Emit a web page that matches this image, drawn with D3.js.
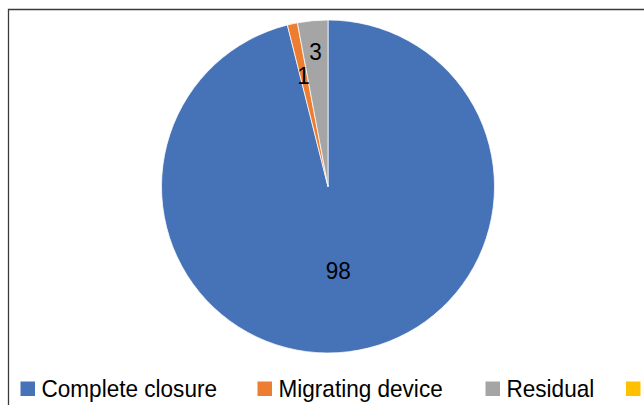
<!DOCTYPE html>
<html>
<head>
<meta charset="utf-8">
<script src="https://cdn.jsdelivr.net/npm/d3@7"></script>
<style>
  html, body { margin: 0; padding: 0; background: #fff; }
  svg { display: block; font-family: "Liberation Sans", Arial, sans-serif; }
</style>
</head>
<body>
<div id="chart"></div>
<script>
// data
const categories = ["Complete closure", "Migrating device", "Residual", "Others"];
const values = [98, 1, 3, 0];
const colors = ["#4672B8", "#ED7D31", "#A5A5A5", "#FFC000"];

// layout only
const labelRadius = [0.505, 0.685, 0.815];
const legendX = [20.5, 257.5, 485.5, 626];

const W = 644, H = 405;
const cx = 328, cy = 186.5, r = 166.5;
const squeeze = 0.94; // text in the picture is slightly narrow

const svg = d3.select("#chart")
    .append("svg")
    .attr("width", W)
    .attr("height", H);

// chart frame (right and bottom edges fall outside the picture)
svg.append("path")
    .attr("d", "M8.5,405 L8.5,9.5 L644,9.5")
    .attr("fill", "none")
    .attr("stroke", "#3a3a3a")
    .attr("stroke-width", 1.3);

const pie = d3.pie().sort(null).value(d => d)(values);
const arc = d3.arc().innerRadius(0).outerRadius(r);

const g = svg.append("g")
    .attr("transform", `translate(${cx},${cy})`);

g.selectAll("path.slice")
    .data(pie.filter(d => d.value > 0))
    .enter()
    .append("path")
    .attr("class", "slice")
    .attr("d", arc)
    .attr("fill", d => colors[d.index])
    .attr("stroke", "#fff")
    .attr("stroke-width", 0.75);

g.selectAll("text.lbl")
    .data(pie.filter(d => d.value > 0))
    .enter()
    .append("text")
    .attr("class", "lbl")
    .attr("transform", d => {
        const a = (d.startAngle + d.endAngle) / 2;
        const x = Math.sin(a) * r * labelRadius[d.index];
        const y = -Math.cos(a) * r * labelRadius[d.index];
        return `translate(${x},${y}) scale(${squeeze},1)`;
    })
    .attr("dy", "0.36em")
    .attr("text-anchor", "middle")
    .attr("font-size", 24)
    .attr("fill", "#000")
    .text(d => d.value);

// legend
const leg = svg.selectAll("g.leg")
    .data(categories)
    .enter()
    .append("g")
    .attr("class", "leg")
    .attr("transform", (d, i) => `translate(${legendX[i]},381.5)`);

leg.append("rect")
    .attr("width", 14.5)
    .attr("height", 14.5)
    .attr("fill", (d, i) => colors[i]);

// last entry's name lies past the right edge of the picture
leg.filter((d, i) => i < categories.length - 1)
    .append("text")
    .attr("transform", `translate(21,15.5) scale(${squeeze},1)`)
    .attr("font-size", 24)
    .attr("fill", "#000")
    .text(d => d);
</script>
</body>
</html>
